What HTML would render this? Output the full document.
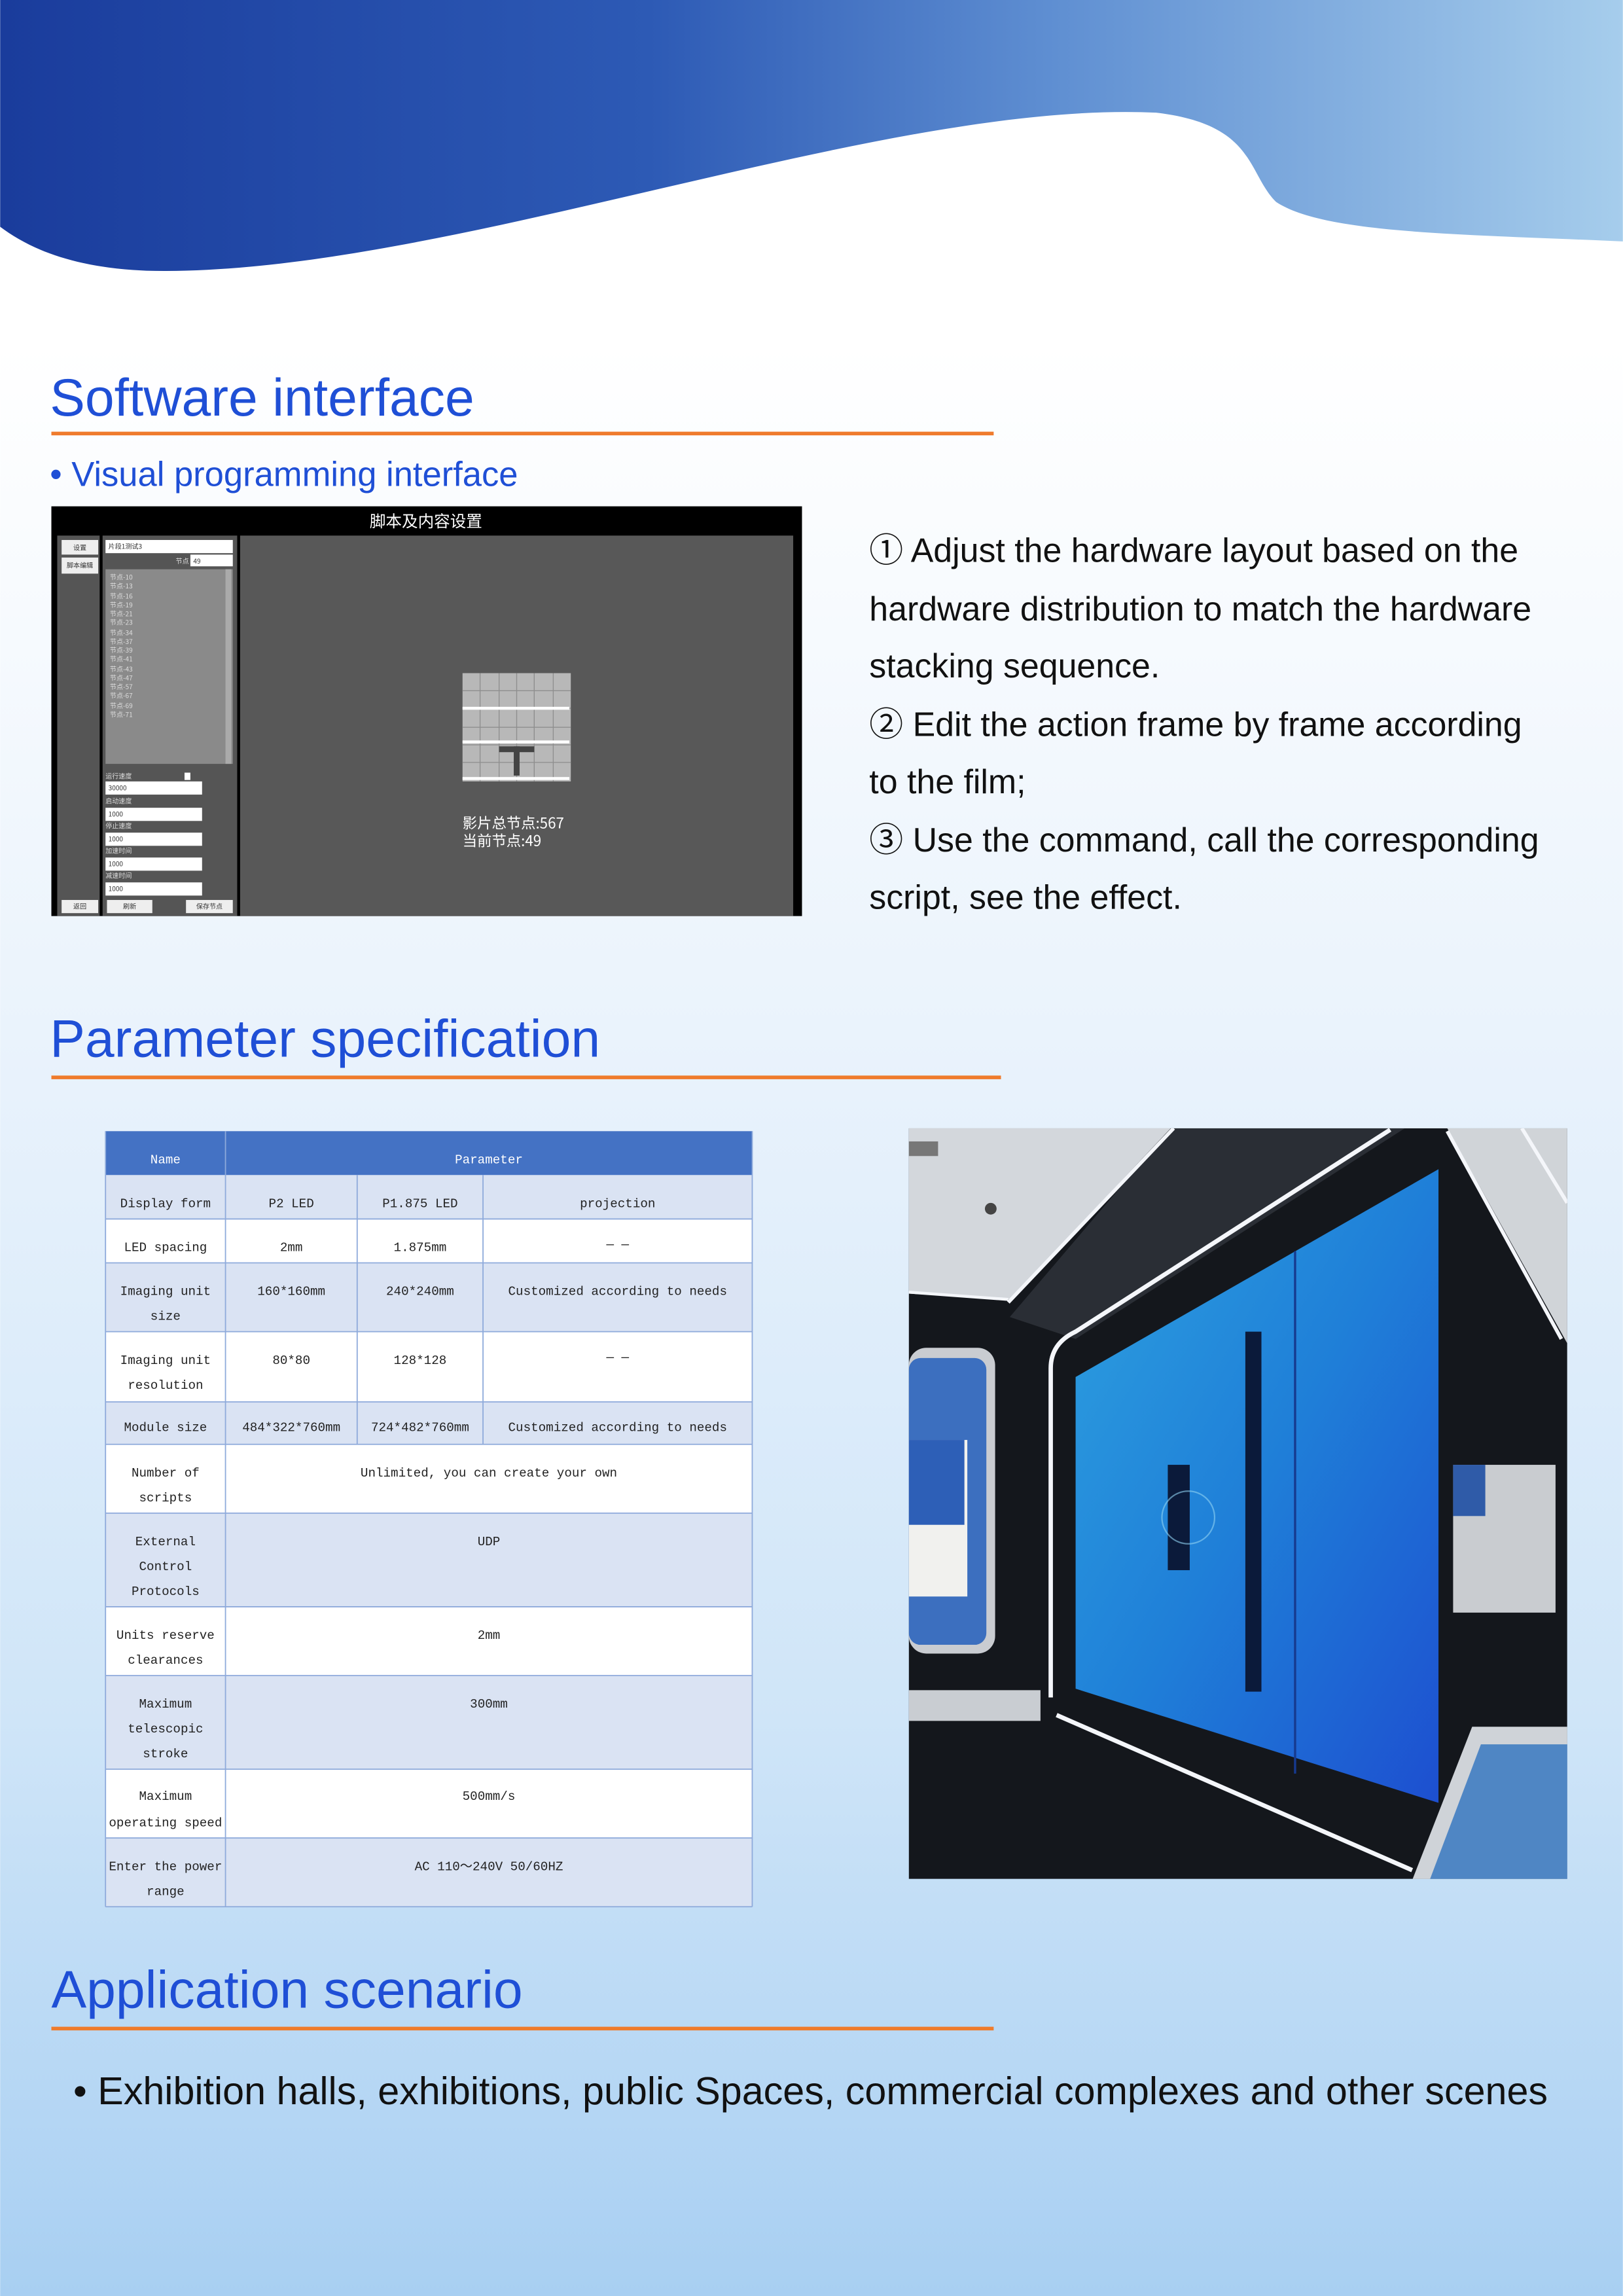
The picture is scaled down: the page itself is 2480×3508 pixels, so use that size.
<!DOCTYPE html>
<html><head><meta charset="utf-8"><style>
html,body{margin:0;padding:0;}
body{width:2480px;height:3508px;overflow:hidden;}
svg{display:block;}
.c{font-family:"Noto Sans CJK SC",sans-serif;}
</style></head><body>
<svg width="2480" height="3508" viewBox="0 0 1109 1569" xmlns="http://www.w3.org/2000/svg" font-family="Liberation Sans, Noto Sans CJK SC, sans-serif">
<defs>
<linearGradient id="bg" x1="0" y1="0" x2="0" y2="1">
<stop offset="0" stop-color="#ffffff"/><stop offset="0.15" stop-color="#ffffff"/><stop offset="0.45" stop-color="#eaf3fc"/><stop offset="0.75" stop-color="#cfe5f8"/><stop offset="1" stop-color="#a8cff2"/></linearGradient>
<linearGradient id="wv" x1="0" y1="0" x2="1" y2="0">
<stop offset="0" stop-color="#1a3c9c"/><stop offset="0.4" stop-color="#2d5ab5"/><stop offset="0.65" stop-color="#5f8fd2"/><stop offset="1" stop-color="#a6cdec"/></linearGradient>
<linearGradient id="blu" x1="0" y1="0" x2="1" y2="1">
<stop offset="0" stop-color="#2ea2e0"/><stop offset="0.5" stop-color="#1f7fd8"/><stop offset="1" stop-color="#1d4fd0"/></linearGradient>
<clipPath id="ph"><rect x="621" y="771" width="450" height="513"/></clipPath>
</defs>
<rect width="1109" height="1569" fill="url(#bg)"/>
<path d="M0,0 H1109 V165 C1000,160 905,160 872,138 C852,118 858,85 790,77 C600,68 300,190 100,185 C50,183 20,170 0,155 Z" fill="url(#wv)"/>

<text x="34" y="284" font-size="36" fill="#1f4fd6">Software interface</text>
<rect x="35" y="295" width="644" height="2.5" fill="#ef7b2c"/>
<text x="34" y="332" font-size="23.5" fill="#1f4fd6">• Visual programming interface</text>

<rect x="35" y="346" width="513" height="280" fill="#000"/>
<text x="291" y="360" font-size="11" fill="#fff" text-anchor="middle" class="c">脚本及内容设置</text>
<rect x="39" y="366" width="29" height="260" fill="#555"/>
<rect x="70" y="366" width="92" height="260" fill="#555"/>
<rect x="164" y="366" width="378" height="260" fill="#585858"/>
<g font-size="4.5" class="c" fill="#333">
<rect x="42" y="369" width="25" height="10" fill="#eee"/><text x="54.5" y="376" text-anchor="middle">设置</text>
<rect x="42" y="381" width="25" height="11" fill="#eee"/><text x="54.5" y="388" text-anchor="middle">脚本编辑</text>
<rect x="42" y="615" width="25" height="9" fill="#eee"/><text x="54.5" y="621" text-anchor="middle">返回</text>
<rect x="72" y="369" width="87" height="9" fill="#fff"/><text x="74" y="375">片段1测试3</text>
<text x="120" y="385" fill="#ddd">节点</text>
<rect x="130" y="379" width="29" height="8" fill="#fff"/><text x="132" y="385">49</text>
<rect x="72" y="389" width="87" height="133" fill="#8a8a8a"/>
<rect x="154" y="389" width="4" height="133" fill="#aaa"/>
<g fill="#ddd">
<text x="75" y="396">节点-10</text><text x="75" y="402">节点-13</text><text x="75" y="409">节点-16</text><text x="75" y="415">节点-19</text><text x="75" y="421">节点-21</text><text x="75" y="427">节点-23</text><text x="75" y="434">节点-34</text><text x="75" y="440">节点-37</text><text x="75" y="446">节点-39</text><text x="75" y="452">节点-41</text><text x="75" y="459">节点-43</text><text x="75" y="465">节点-47</text><text x="75" y="471">节点-57</text><text x="75" y="477">节点-67</text><text x="75" y="484">节点-69</text><text x="75" y="490">节点-71</text>
<text x="72" y="532">运行速度</text><text x="72" y="549">启动速度</text><text x="72" y="566">停止速度</text><text x="72" y="583">加速时间</text><text x="72" y="600">减速时间</text>
</g>
<rect x="126" y="528" width="4" height="5" fill="#fff"/>
<rect x="72" y="534" width="66" height="9" fill="#fff"/><text x="74" y="540">30000</text>
<rect x="72" y="552" width="66" height="9" fill="#fff"/><text x="74" y="558">1000</text>
<rect x="72" y="569" width="66" height="9" fill="#fff"/><text x="74" y="575">1000</text>
<rect x="72" y="586" width="66" height="9" fill="#fff"/><text x="74" y="592">1000</text>
<rect x="72" y="603" width="66" height="9" fill="#fff"/><text x="74" y="609">1000</text>
<rect x="73" y="615" width="31" height="9" fill="#eee"/><text x="88.5" y="621" text-anchor="middle">刷新</text>
<rect x="127" y="615" width="32" height="9" fill="#eee"/><text x="143" y="621" text-anchor="middle">保存节点</text>
</g>
<rect x="316" y="460" width="74" height="74" fill="#b8b8b8"/>
<g stroke="#8e8e8e" stroke-width="0.6">
<path d="M328,460V534M341,460V534M353,460V534M365,460V534M378,460V534M316,472H390M316,484H390M316,497H390M316,509H390M316,521H390"/>
</g>
<rect x="316" y="483" width="73" height="2" fill="#fff"/><rect x="316" y="506" width="73" height="2" fill="#fff"/><rect x="316" y="531" width="73" height="2" fill="#fff"/>
<rect x="341" y="510" width="24" height="4" fill="#444"/><rect x="351" y="510" width="4" height="20" fill="#444"/>
<text x="316" y="566" font-size="10" fill="#fff" class="c">影片总节点:567</text>
<text x="316" y="578" font-size="10" fill="#fff" class="c">当前节点:49</text>

<g font-size="23.2" fill="#111">
<text x="594" y="384">① Adjust the hardware layout based on the</text>
<text x="594" y="424">hardware distribution to match the hardware</text>
<text x="594" y="463"> stacking sequence.</text>
<text x="594" y="503">② Edit the action frame by frame according</text>
<text x="594" y="542">to the film;</text>
<text x="594" y="582">③ Use the command, call the corresponding</text>
<text x="594" y="621"> script, see the effect.</text>
</g>

<text x="34" y="722" font-size="36" fill="#1f4fd6">Parameter specification</text>
<rect x="35" y="735" width="649" height="2.5" fill="#ef7b2c"/>

<rect x="72" y="773" width="442" height="30" fill="#4472c4"/>
<g fill="#dae3f3">
<rect x="72" y="803" width="442" height="30"/><rect x="72" y="863" width="442" height="47"/><rect x="72" y="958" width="442" height="29"/><rect x="72" y="1034" width="442" height="64"/><rect x="72" y="1145" width="442" height="64"/><rect x="72" y="1256" width="442" height="47"/>
</g>
<g fill="#fff">
<rect x="72" y="833" width="442" height="30"/><rect x="72" y="910" width="442" height="48"/><rect x="72" y="987" width="442" height="47"/><rect x="72" y="1098" width="442" height="47"/><rect x="72" y="1209" width="442" height="47"/>
</g>
<g stroke="#8eaadb" stroke-width="0.8" fill="none">
<path d="M72,773V1303M514,773V1303M154,773V1303M244,803V987M330,803V987"/>
<path d="M72,833H514M72,863H514M72,910H514M72,958H514M72,987H514M72,1034H514M72,1098H514M72,1145H514M72,1209H514M72,1256H514M72,1303H514"/>
</g>
<g font-family="Liberation Mono, monospace" font-size="8.6" fill="#222" text-anchor="middle">
<text x="113" y="795" fill="#fff">Name</text><text x="334" y="795" fill="#fff">Parameter</text>
<text x="113" y="825">Display form</text><text x="199" y="825">P2 LED</text><text x="287" y="825">P1.875 LED</text><text x="422" y="825">projection</text>
<text x="113" y="855">LED spacing</text><text x="199" y="855">2mm</text><text x="287" y="855">1.875mm</text><text x="422" y="853">— —</text>
<text x="113" y="885">Imaging unit</text><text x="113" y="902">size</text><text x="199" y="885">160*160mm</text><text x="287" y="885">240*240mm</text><text x="422" y="885">Customized according to needs</text>
<text x="113" y="932">Imaging unit</text><text x="113" y="949">resolution</text><text x="199" y="932">80*80</text><text x="287" y="932">128*128</text><text x="422" y="930">— —</text>
<text x="113" y="978">Module size</text><text x="199" y="978">484*322*760mm</text><text x="287" y="978">724*482*760mm</text><text x="422" y="978">Customized according to needs</text>
<text x="113" y="1009">Number of</text><text x="113" y="1026">scripts</text><text x="334" y="1009">Unlimited, you can create your own</text>
<text x="113" y="1056">External</text><text x="113" y="1073">Control</text><text x="113" y="1090">Protocols</text><text x="334" y="1056">UDP</text>
<text x="113" y="1120">Units reserve</text><text x="113" y="1137">clearances</text><text x="334" y="1120">2mm</text>
<text x="113" y="1167">Maximum</text><text x="113" y="1184">telescopic</text><text x="113" y="1201">stroke</text><text x="334" y="1167">300mm</text>
<text x="113" y="1230">Maximum</text><text x="113" y="1248">operating speed</text><text x="334" y="1230">500mm/s</text>
<text x="113" y="1278">Enter the power</text><text x="113" y="1295">range</text><text x="334" y="1278">AC 110～240V 50/60HZ</text>
</g>

<g clip-path="url(#ph)">
<rect x="621" y="771" width="450" height="513" fill="#14171c"/>
<polygon points="621,771 800,771 690,888 621,884" fill="#d3d7dc"/>
<polygon points="800,771 960,771 735,915 690,900" fill="#2a2e35"/>
<polygon points="989,771 1071,771 1071,918" fill="#d0d4d8"/>
<rect x="621" y="780" width="20" height="10" fill="#777"/>
<circle cx="677" cy="826" r="4" fill="#444"/>
<rect x="621" y="921" width="59" height="209" rx="12" fill="#c9ccd1"/>
<rect x="621" y="928" width="53" height="196" rx="8" fill="#3c6fbf"/>
<rect x="621" y="984" width="40" height="107" fill="#f1f1ee"/>
<rect x="621" y="984" width="38" height="58" fill="#2d5fb7"/>
<rect x="621" y="1155" width="90" height="21" fill="#c9cdd2"/>
<polygon points="735,941 983,799 983,1232 735,1154" fill="url(#blu)"/>
<line x1="885" y1="855" x2="885" y2="1212" stroke="#163a8f" stroke-width="1.5"/>
<rect x="851" y="910" width="11" height="246" fill="#0b1a3a"/>
<rect x="798" y="1001" width="15" height="72" fill="#0b1a3a"/>
<circle cx="812" cy="1037" r="18" fill="none" stroke="#8fd2f2" stroke-width="1" opacity="0.6"/>
<path d="M718,1160 V935 Q718,918 735,910 L950,772" stroke="#f4f6fa" stroke-width="3" fill="none"/>
<path d="M722,1172 L965,1278" stroke="#f4f6fa" stroke-width="3" fill="none"/>
<path d="M689,890 L802,771" stroke="#f4f6fa" stroke-width="2.5"/>
<path d="M621,883 L689,888" stroke="#f4f6fa" stroke-width="2"/>
<path d="M989,773 L1067,915" stroke="#f4f6fa" stroke-width="2.5"/>
<path d="M1040,771 L1071,822" stroke="#f4f6fa" stroke-width="2.5"/>
<rect x="993" y="1001" width="70" height="101" fill="#c9ccd0"/>
<rect x="993" y="1001" width="22" height="35" fill="#2f5ba8"/>
<polygon points="963,1290 1006,1180 1075,1180 1075,1290" fill="#cfd3d8"/>
<polygon points="975,1290 1012,1192 1075,1192 1075,1290" fill="#4f86c4"/>
</g>

<text x="35" y="1372" font-size="36" fill="#1f4fd6">Application scenario</text>
<rect x="35" y="1385" width="644" height="2.5" fill="#ef7b2c"/>
<text x="50" y="1438" font-size="26.5" fill="#111">• Exhibition halls, exhibitions, public Spaces, commercial complexes and other scenes</text>
</svg>
</body></html>
